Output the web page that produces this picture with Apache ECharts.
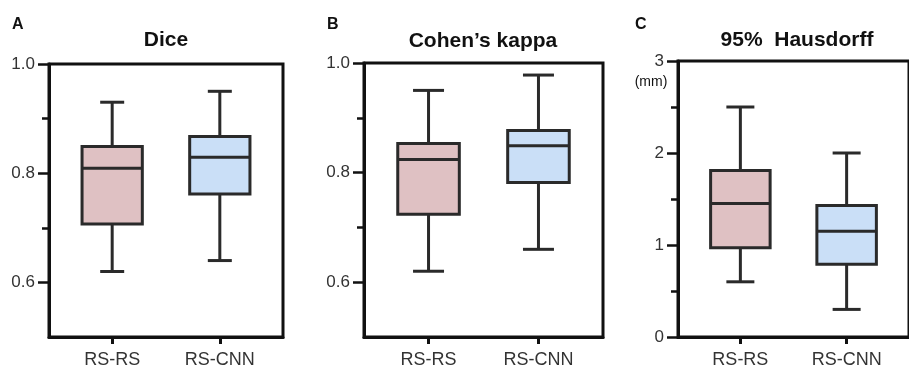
<!DOCTYPE html>
<html>
<head>
<meta charset="utf-8">
<script src="https://cdn.jsdelivr.net/npm/echarts@6/dist/echarts.min.js"></script>
<style>
  html, body { margin: 0; padding: 0; background: #fff; }
  #main { width: 909px; height: 369px; }
</style>
</head>
<body>
<div id="main"></div>
<script>
// 数据: [min, Q1, median, Q3, max]
var categories = ['RS-RS', 'RS-CNN'];
var diceRS = [0.62, 0.707, 0.809, 0.849, 0.93];
var diceCNN = [0.64, 0.762, 0.829, 0.867, 0.95];
var kappaRS = [0.62, 0.724, 0.824, 0.853, 0.95];
var kappaCNN = [0.66, 0.782, 0.849, 0.877, 0.978];
var hdRS = [0.60, 0.97, 1.45, 1.81, 2.5];
var hdCNN = [0.30, 0.79, 1.15, 1.43, 2.0];

var ratioTicks = [0.6, 0.8, 1.0];
var ratioMinor = [0.7, 0.9];
var hdTicks = [0, 1, 2, 3];
var hdMinor = [0.5, 1.5, 2.5];

var fills = ['#dfc1c3', '#cadff7'];
var edge = '#2a2a2a';
var font = '"Liberation Sans", Arial, sans-serif';

var dom = document.getElementById('main');
var myChart = echarts.init(dom);

// 每个箱子: [x, min, Q1, median, Q3, max]
function boxData(a, b) {
    return [[0].concat(a), [1].concat(b)];
}

function makeRender(capW) {
    return function (params, api) {
        var x = api.value(0);
        var lo = api.coord([x, api.value(1)]);
        var q1 = api.coord([x, api.value(2)]);
        var md = api.coord([x, api.value(3)]);
        var q3 = api.coord([x, api.value(4)]);
        var hi = api.coord([x, api.value(5)]);
        var bw = api.size([1, 0])[0] * 0.56;
        var cx = lo[0];
        var ls = { stroke: edge, lineWidth: 3, lineCap: 'butt' };
        return {
            type: 'group',
            children: [
                { type: 'line', shape: { x1: cx, y1: lo[1], x2: cx, y2: q1[1] }, style: ls },
                { type: 'line', shape: { x1: cx, y1: q3[1], x2: cx, y2: hi[1] }, style: ls },
                { type: 'line', shape: { x1: cx - capW / 2, y1: lo[1], x2: cx + capW / 2, y2: lo[1] }, style: ls },
                { type: 'line', shape: { x1: cx - capW / 2, y1: hi[1], x2: cx + capW / 2, y2: hi[1] }, style: ls },
                { type: 'rect', shape: { x: cx - bw / 2, y: q3[1], width: bw, height: q1[1] - q3[1] },
                  style: { fill: fills[params.dataIndex], stroke: edge, lineWidth: 3 } },
                { type: 'line', shape: { x1: cx - bw / 2, y1: md[1], x2: cx + bw / 2, y2: md[1] }, style: ls }
            ]
        };
    };
}

var grids = [
    { left: 49, top: 64, width: 234, height: 275 },
    { left: 364, top: 63, width: 239, height: 278 },
    { left: 678, top: 61, width: 239, height: 280 }
];
grids.forEach(function (g) {
    g.show = true;
    g.borderColor = '#111';
    g.borderWidth = 3;
    g.containLabel = false;
});

var xAxes = [], yAxes = [];
var yCfg = [
    { min: 0.5, max: 1.0, major: ratioTicks, minor: ratioMinor, fmt: function (v) { return v.toFixed(1); } },
    { min: 0.5, max: 1.0, major: ratioTicks, minor: ratioMinor, fmt: function (v) { return v.toFixed(1); } },
    { min: 0, max: 3, major: hdTicks, minor: hdMinor, fmt: function (v) { return String(Math.round(v)); } }
];
for (var i = 0; i < 3; i++) {
    xAxes.push({
        gridIndex: i,
        type: 'value',
        min: -0.587,
        max: 1.587,
        position: 'bottom',
        splitLine: { show: false },
        axisLine: { show: true, onZero: false, lineStyle: { color: '#111', width: 3 } },
        axisTick: { show: true, customValues: [0, 1], length: 7, lineStyle: { color: '#111', width: 3 } },
        axisLabel: {
            customValues: [0, 1], margin: 14, color: '#333', fontSize: 18, fontFamily: font,
            formatter: function (v) { return categories[Math.round(v)]; }
        }
    });
    yAxes.push({
        gridIndex: i,
        type: 'value',
        position: 'left',
        min: yCfg[i].min,
        max: yCfg[i].max,
        splitLine: { show: false },
        axisLine: { show: true, onZero: false, lineStyle: { color: '#111', width: 3 } },
        axisTick: { show: true, customValues: yCfg[i].major, length: 11, lineStyle: { color: '#111', width: 2.5 } },
        axisLabel: { customValues: yCfg[i].major, margin: 14, color: '#333', fontSize: 17, fontFamily: font, formatter: yCfg[i].fmt }
    });
    // 次刻度
    yAxes.push({
        gridIndex: i,
        type: 'value',
        position: 'left',
        min: yCfg[i].min,
        max: yCfg[i].max,
        splitLine: { show: false },
        axisLine: { show: false, onZero: false },
        axisTick: { show: true, customValues: yCfg[i].minor, length: 7, lineStyle: { color: '#111', width: 2.5 } },
        axisLabel: { show: false }
    });
}

var caps = [24, 31, 28];
var panelData = [boxData(diceRS, diceCNN), boxData(kappaRS, kappaCNN), boxData(hdRS, hdCNN)];
var series = [];
for (var k = 0; k < 3; k++) {
    series.push({
        type: 'custom',
        xAxisIndex: k,
        yAxisIndex: k * 2,
        renderItem: makeRender(caps[k]),
        encode: { x: 0, y: [1, 2, 3, 4, 5] },
        data: panelData[k],
        clip: false
    });
}

function txt(x, y, text, size, bold, align) {
    return {
        type: 'text', x: x, y: y, z: 10,
        style: {
            text: text, fill: '#111', align: align || 'center', verticalAlign: 'middle',
            font: (bold ? 'bold ' : '') + size + 'px ' + font
        }
    };
}

option = {
    animation: false,
    backgroundColor: '#fff',
    grid: grids,
    xAxis: xAxes,
    yAxis: yAxes,
    series: series,
    graphic: [
        txt(12, 25, 'A', 16, true, 'left'),
        txt(327, 25, 'B', 16, true, 'left'),
        txt(635, 25, 'C', 16, true, 'left'),
        txt(166, 40, 'Dice', 21, true),
        txt(483, 41, 'Cohen\u2019s kappa', 21, true),
        txt(797, 40, '95%  Hausdorff', 21, true),
        txt(651, 82, '(mm)', 14, false)
    ]
};
myChart.setOption(option);
window.onresize = myChart.resize;
</script>
</body>
</html>
